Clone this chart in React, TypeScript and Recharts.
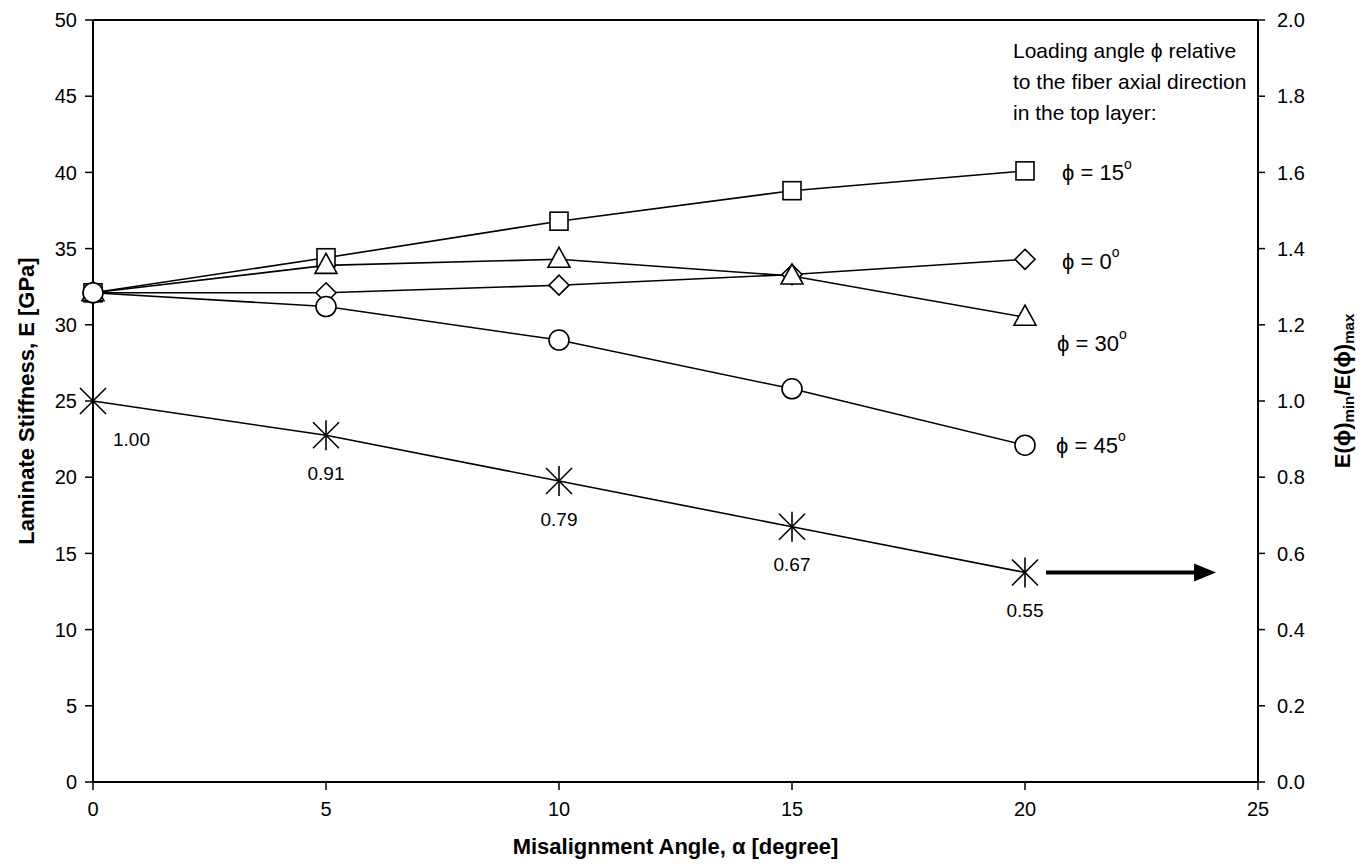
import { ComposedChart, Line, XAxis, YAxis, ReferenceLine, LabelList } from "recharts";

// Misalignment angle alpha [degree]
const angles = [0, 5, 10, 15, 20];
// Laminate stiffness E [GPa] per loading angle phi
const phi15 = [32.1, 34.4, 36.8, 38.8, 40.1];
const phi0 = [32.1, 32.1, 32.6, 33.3, 34.3];
const phi30 = [32.1, 33.9, 34.3, 33.2, 30.5];
const phi45 = [32.1, 31.2, 29.0, 25.8, 22.1];
// E(phi)min / E(phi)max, right axis
const ratio = [1.0, 0.91, 0.79, 0.67, 0.55];

const xTicks = [0, 5, 10, 15, 20, 25];
const leftTicks = [0, 5, 10, 15, 20, 25, 30, 35, 40, 45, 50];
const rightTicks = [0, 0.2, 0.4, 0.6, 0.8, 1.0, 1.2, 1.4, 1.6, 1.8, 2.0];
const arrow = [
  { x: 20.45, y: 0.55 },
  { x: 24.1, y: 0.55 },
];

const FONT = '"Liberation Sans", Arial, sans-serif';

const data = angles.map((a, i) => ({
  alpha: a,
  phi15: phi15[i],
  phi0: phi0[i],
  phi30: phi30[i],
  phi45: phi45[i],
  ratio: ratio[i],
}));

const mk = { fill: "#fff", stroke: "#000", strokeWidth: 1.6 };

const Square = (p: any) =>
  p.cx == null ? null : <rect key={p.index} x={p.cx - 9} y={p.cy - 9} width={18} height={18} {...mk} />;
const Diamond = (p: any) =>
  p.cx == null ? null : (
    <polygon
      key={p.index}
      points={`${p.cx},${p.cy - 10} ${p.cx + 10},${p.cy} ${p.cx},${p.cy + 10} ${p.cx - 10},${p.cy}`}
      {...mk}
    />
  );
const Triangle = (p: any) =>
  p.cx == null ? null : (
    <polygon
      key={p.index}
      points={`${p.cx},${p.cy - 12} ${p.cx + 11},${p.cy + 8} ${p.cx - 11},${p.cy + 8}`}
      {...mk}
    />
  );
const Circle = (p: any) =>
  p.cx == null ? null : <circle key={p.index} cx={p.cx} cy={p.cy} r={10} {...mk} />;
const Star = (p: any) =>
  p.cx == null ? null : (
    <g key={p.index} stroke="#000" strokeWidth={1.6}>
      <line x1={p.cx} y1={p.cy - 15} x2={p.cx} y2={p.cy + 15} />
      <line x1={p.cx - 13} y1={p.cy - 13} x2={p.cx + 13} y2={p.cy + 13} />
      <line x1={p.cx - 13} y1={p.cy + 13} x2={p.cx + 13} y2={p.cy - 13} />
    </g>
  );

// "phi = NN°" tag at the last point of a series
const phiTag = (deg: string, dx: number, dy: number) => (p: any) => {
  if (p.index !== angles.length - 1) return null;
  return (
    <text x={p.x + dx} y={p.y + dy} fontFamily={FONT} fontSize={22} fill="#000" dominantBaseline="central">
      {"ϕ = " + deg}
      <tspan fontSize={14} dy={-9}>o</tspan>
    </text>
  );
};

const ratioTag = (p: any) => {
  const first = p.index === 0;
  return (
    <text
      x={p.x + (first ? 20 : 0)}
      y={p.y + 38}
      textAnchor={first ? "start" : "middle"}
      fontFamily={FONT}
      fontSize={19}
      fill="#000"
      dominantBaseline="central"
    >
      {Number(p.value).toFixed(2)}
    </text>
  );
};

const ArrowShape = (p: any) => {
  const { x1, y1, x2, y2 } = p;
  if (x1 == null) return null;
  return (
    <g>
      <line x1={x1} y1={y1} x2={x2 - 18} y2={y2} stroke="#000" strokeWidth={4} />
      <polygon points={`${x2},${y2} ${x2 - 22},${y2 - 9} ${x2 - 22},${y2 + 9}`} fill="#000" />
    </g>
  );
};

const NoteBlock = (p: any) => {
  const vb = p.viewBox;
  if (!vb) return null;
  const x = vb.x + 920;
  const lines = ["Loading angle ϕ relative", "to the fiber axial direction", "in the top layer:"];
  return (
    <g>
      {lines.map((l, i) => (
        <text key={i} x={x} y={vb.y + 30 + i * 31} fontFamily={FONT} fontSize={21} fill="#000" dominantBaseline="central">
          {l}
        </text>
      ))}
    </g>
  );
};

const LeftTitle = (p: any) => {
  const vb = p.viewBox;
  const cx = 26;
  const cy = vb.y + vb.height / 2;
  return (
    <text
      x={cx}
      y={cy}
      transform={`rotate(-90 ${cx} ${cy})`}
      textAnchor="middle"
      dominantBaseline="central"
      fontFamily={FONT}
      fontSize={22}
      fontWeight="bold"
      fill="#000"
    >
      Laminate Stiffness, E [GPa]
    </text>
  );
};

const RightTitle = (p: any) => {
  const vb = p.viewBox;
  const cx = vb.x + 84;
  const cy = vb.y + vb.height / 2 - 10;
  return (
    <text
      x={cx}
      y={cy}
      transform={`rotate(-90 ${cx} ${cy})`}
      textAnchor="middle"
      dominantBaseline="central"
      fontFamily={FONT}
      fontSize={22}
      fontWeight="bold"
      fill="#000"
    >
      E(ϕ)
      <tspan fontSize={15} dy={6}>min</tspan>
      <tspan dy={-6}>/E(ϕ)</tspan>
      <tspan fontSize={15} dy={6}>max</tspan>
    </text>
  );
};

const tick = { fontFamily: FONT, fontSize: 20, fill: "#000" };
const axisLine = { stroke: "#000", strokeWidth: 2 };
const tickLine = { stroke: "#000", strokeWidth: 1.5 };

export default function App() {
  return (
    <div style={{ position: "absolute", left: 0, top: 0, background: "#fff" }}>
      <ComposedChart width={1369} height={864} data={data} margin={{ top: 20, right: 0, bottom: 0, left: 0 }}>
        <XAxis
          dataKey="alpha"
          type="number"
          domain={[0, 25]}
          ticks={xTicks}
          tick={tick}
          tickSize={8}
          tickMargin={12}
          axisLine={axisLine}
          tickLine={tickLine}
          height={82}
          label={{
            value: "Misalignment Angle, α [degree]",
            position: "insideBottom",
            offset: 10,
            style: { fontFamily: FONT, fontSize: 22, fontWeight: "bold", fill: "#000" },
          }}
        />
        <YAxis
          yAxisId="left"
          domain={[0, 50]}
          ticks={leftTicks}
          tick={tick}
          tickSize={8}
          tickMargin={8}
          width={93}
          axisLine={axisLine}
          tickLine={tickLine}
          label={<LeftTitle />}
        />
        <YAxis
          yAxisId="right"
          orientation="right"
          domain={[0, 2]}
          ticks={rightTicks}
          tickFormatter={(v: number) => v.toFixed(1)}
          tick={tick}
          tickSize={7}
          tickMargin={12}
          width={111}
          axisLine={axisLine}
          tickLine={tickLine}
          label={<RightTitle />}
        />
        <ReferenceLine yAxisId="left" y={50} stroke="#000" strokeWidth={2} label={<NoteBlock />} />

        <Line yAxisId="left" dataKey="phi15" stroke="#000" strokeWidth={1.6} dot={Square} activeDot={false} isAnimationActive={false}>
          <LabelList dataKey="phi15" content={phiTag("15", 37, 2)} />
        </Line>
        <Line yAxisId="left" dataKey="phi0" stroke="#000" strokeWidth={1.6} dot={Diamond} activeDot={false} isAnimationActive={false}>
          <LabelList dataKey="phi0" content={phiTag("0", 37, 2)} />
        </Line>
        <Line yAxisId="left" dataKey="phi30" stroke="#000" strokeWidth={1.6} dot={Triangle} activeDot={false} isAnimationActive={false}>
          <LabelList dataKey="phi30" content={phiTag("30", 32, 26)} />
        </Line>
        <Line yAxisId="left" dataKey="phi45" stroke="#000" strokeWidth={1.6} dot={Circle} activeDot={false} isAnimationActive={false}>
          <LabelList dataKey="phi45" content={phiTag("45", 31, 0)} />
        </Line>
        <Line yAxisId="right" dataKey="ratio" stroke="#000" strokeWidth={1.6} dot={Star} activeDot={false} isAnimationActive={false}>
          <LabelList dataKey="ratio" content={ratioTag} />
        </Line>
        <ReferenceLine yAxisId="right" segment={arrow} shape={ArrowShape} />
      </ComposedChart>
    </div>
  );
}
